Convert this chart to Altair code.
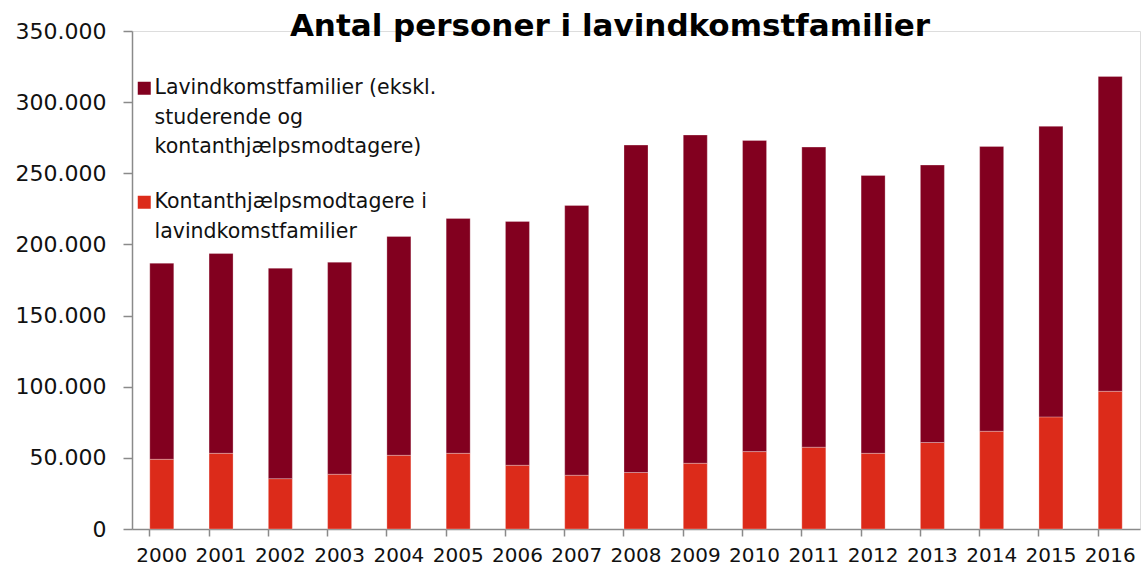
import altair as alt
import pandas as pd

YEARS = [str(y) for y in range(2000, 2017)]
SERIES = [
    "Lavindkomstfamilier (ekskl. studerende og kontanthjælpsmodtagere)",
    "Kontanthjælpsmodtagere i lavindkomstfamilier",
]
LEGEND_LINES = [
    ["Lavindkomstfamilier (ekskl.", "studerende og", "kontanthjælpsmodtagere)"],
    ["Kontanthjælpsmodtagere i", "lavindkomstfamilier"],
]
COLORS = ["#82001F", "#DC2B1A"]

LAVINDKOMST = [137800, 140400, 147900, 149000, 153800, 165100, 171400, 189600,
               230100, 230700, 218700, 210900, 195300, 195000, 200200, 204200, 221300]
KONTANT = [49000, 53200, 35400, 38500, 51800, 53200, 44800, 37800,
           39700, 46200, 54400, 57500, 53200, 60800, 68700, 78800, 96800]

TITLE = "Antal personer i lavindkomstfamilier"
Y_TICKS = [0, 50000, 100000, 150000, 200000, 250000, 300000, 350000]

rows = []
for i, yr in enumerate(YEARS):
    rows.append({"year": yr, "series": SERIES[1], "value": KONTANT[i], "ord": 0})
    rows.append({"year": yr, "series": SERIES[0], "value": LAVINDKOMST[i], "ord": 1})
df = pd.DataFrame(rows)

def js_list(lines):
    return "[" + ",".join("'" + l + "'" for l in lines) + "]"

label_expr = (
    f"datum.label == '{SERIES[0]}' ? {js_list(LEGEND_LINES[0])} : {js_list(LEGEND_LINES[1])}"
)

FONT = "DejaVu Sans"
AXIS_COLOR = "#8a8a8a"

chart = alt.Chart(df).mark_bar(
    stroke="#ffffff", strokeOpacity=0.35, strokeWidth=0.8
).encode(
    x=alt.X("year:N", sort=YEARS, title=None,
            scale=alt.Scale(paddingInner=0.595, paddingOuter=0.3),
            axis=alt.Axis(labelAngle=0, bandPosition=0, tickSize=7, tickWidth=1.5,
                          domainWidth=1.5, domainColor=AXIS_COLOR, tickColor=AXIS_COLOR,
                          labelFont=FONT, labelFontSize=20, labelColor="#111111",
                          labelPadding=9, labelBound=False, labelOverlap=False,
                          labelFlush=False)),
    y=alt.Y("value:Q", stack="zero", title=None,
            scale=alt.Scale(domain=[0, 350000], nice=False),
            axis=alt.Axis(values=Y_TICKS, grid=False, tickSize=9, tickWidth=1.5,
                          domainWidth=1.5, domainColor=AXIS_COLOR, tickColor=AXIS_COLOR,
                          labelFont=FONT, labelFontSize=22, labelColor="#111111",
                          labelPadding=17,
                          labelExpr="replace(format(datum.value, ','), ',', '.')")),
    color=alt.Color("series:N", scale=alt.Scale(domain=SERIES, range=COLORS),
                    legend=alt.Legend(orient="none", legendX=2, legendY=47, title=None,
                                      symbolType="square", symbolSize=169,
                                      symbolStrokeWidth=0, labelFont=FONT,
                                      labelFontSize=20.5, labelColor="#111111",
                                      labelOffset=0, labelLimit=0, rowPadding=34,
                                      padding=0, labelExpr=label_expr,
                                      labelBaseline="middle")),
    order=alt.Order("ord:Q", sort="ascending"),
).properties(
    width=1008,
    height=498,
    title=alt.TitleParams(TITLE, font=FONT, fontSize=31, fontWeight="bold",
                          color="#000000", anchor="middle", baseline="alphabetic",
                          offset=0, dy=47, dx=-26),
    autosize=alt.AutoSizeParams(type="none"),
    padding={"left": 132, "top": 31, "right": 1, "bottom": 41},
).configure_view(stroke=None).configure(
    style={"guide-label": {"lineHeight": 29.5}}
)

chart.save("out.html", embed_options={"renderer": "svg", "actions": False})
